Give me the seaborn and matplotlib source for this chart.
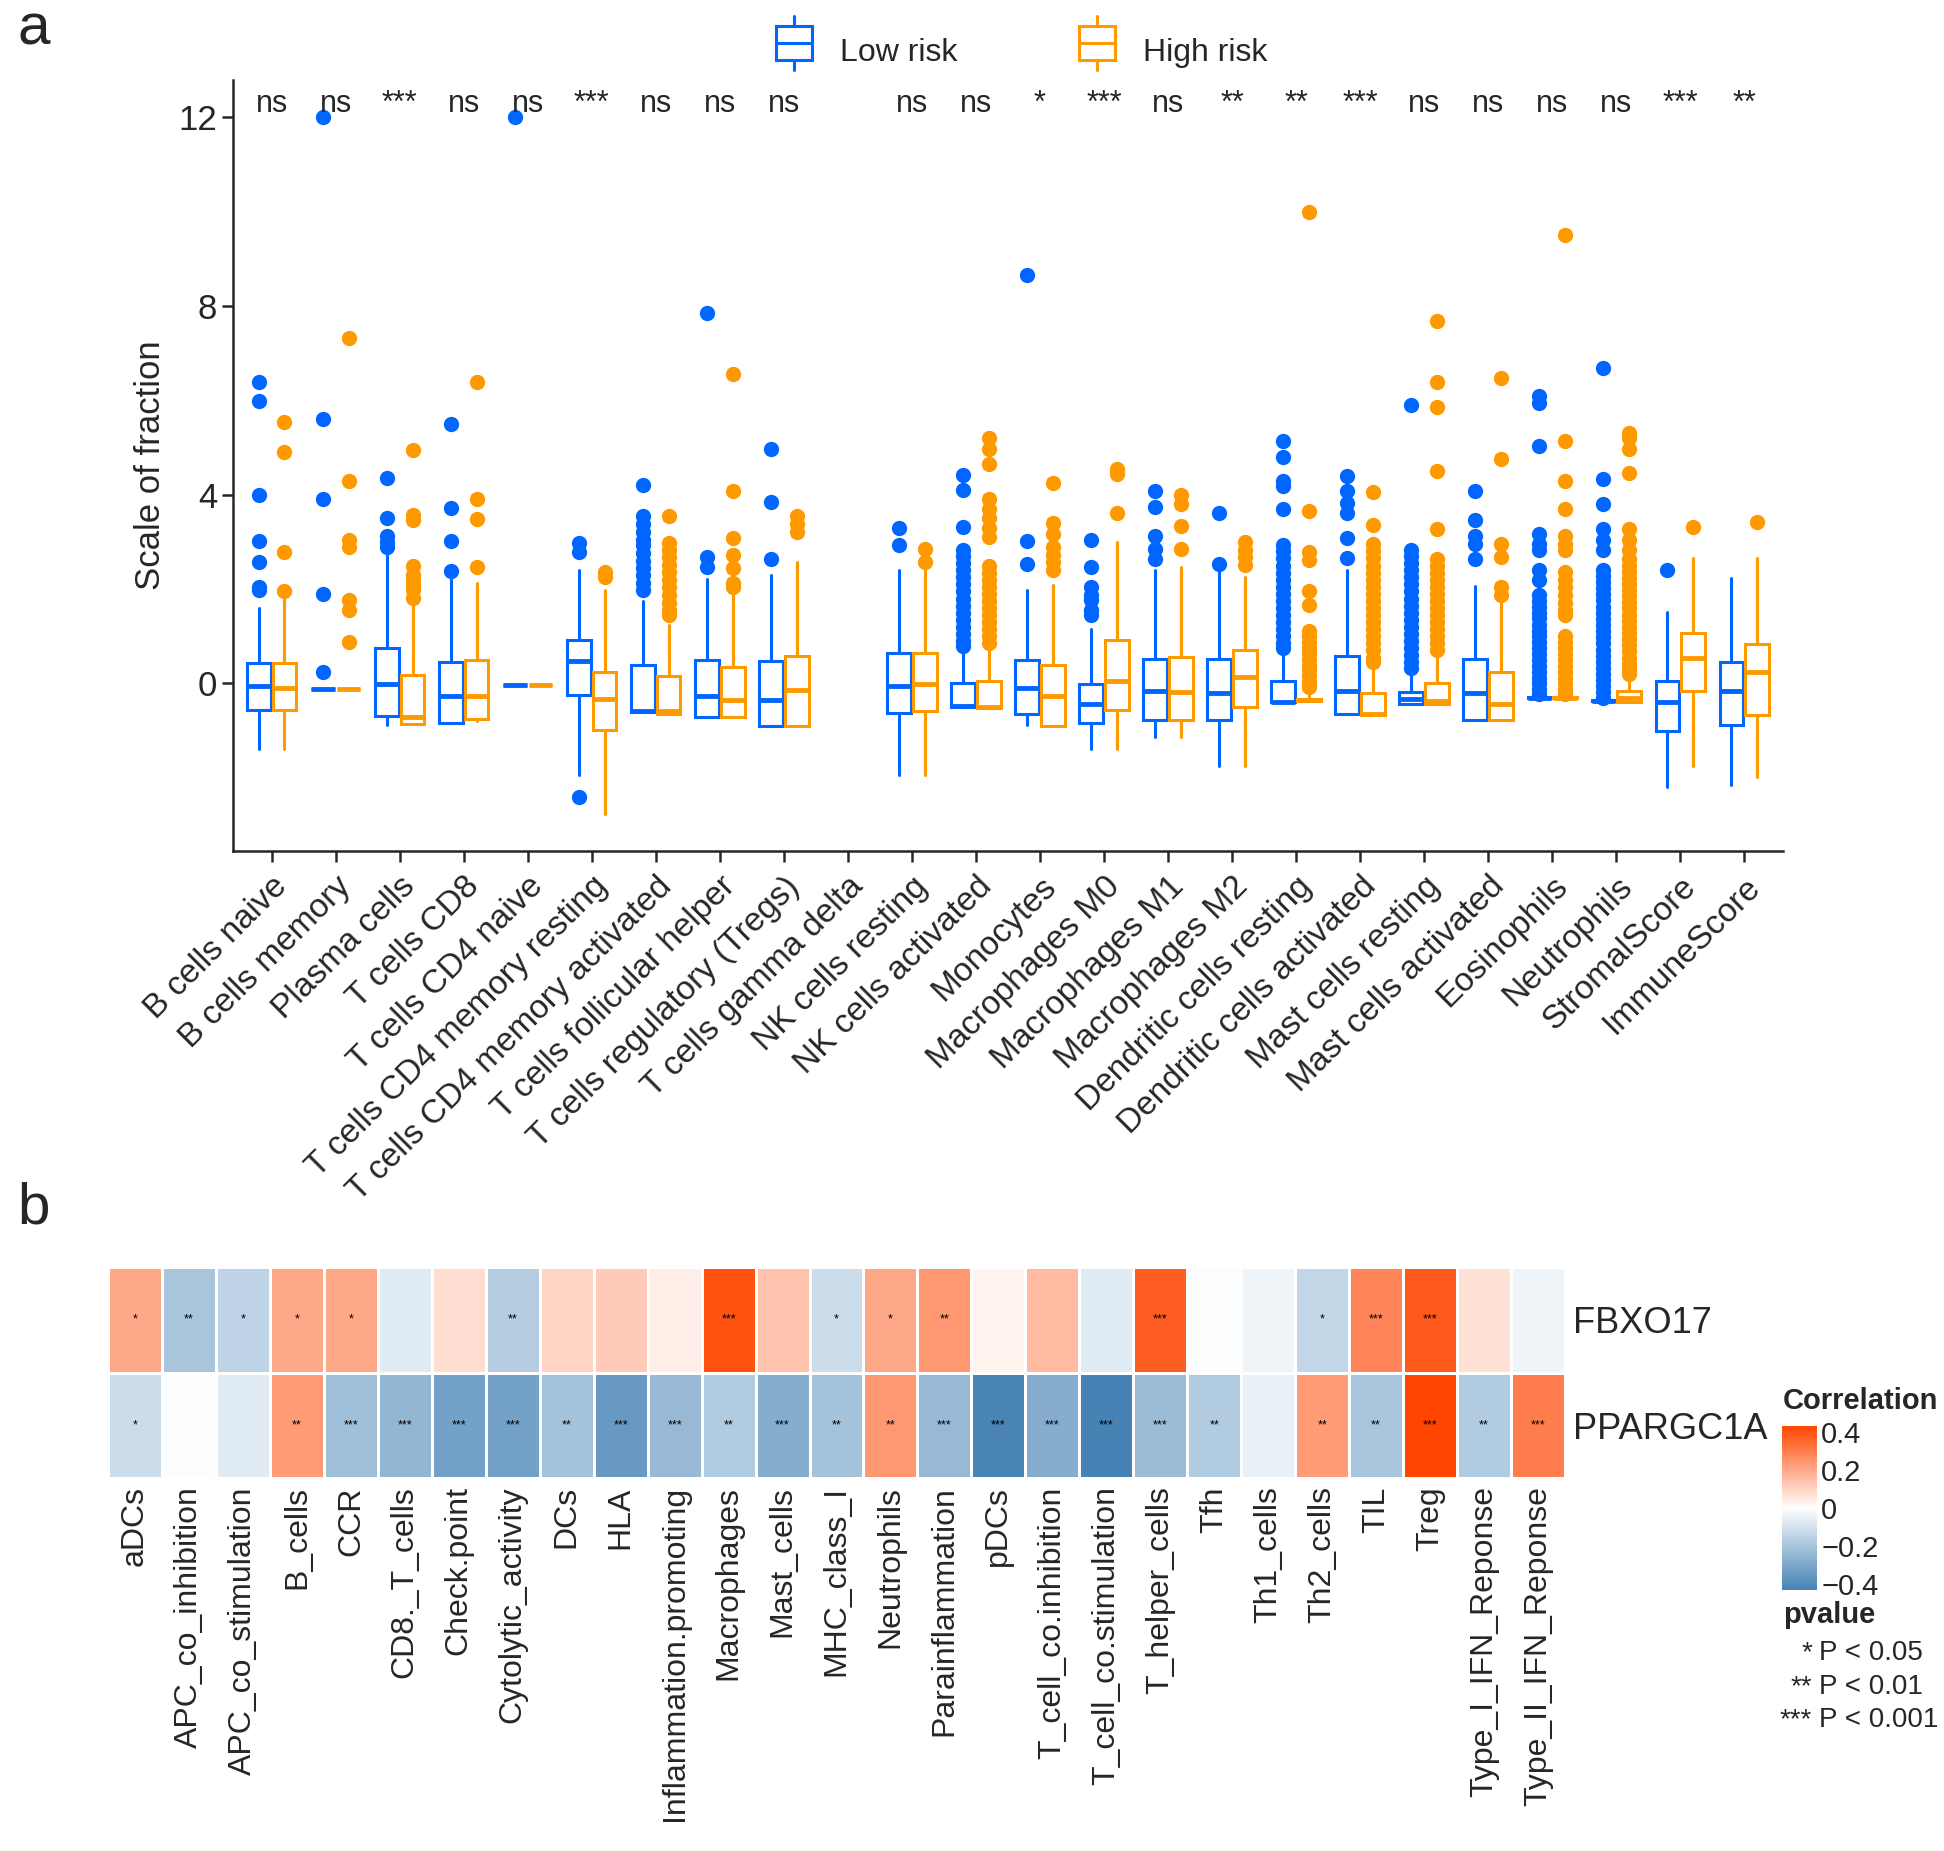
import numpy as np
import pandas as pd
import matplotlib
matplotlib.use("Agg")
import matplotlib.pyplot as plt
from matplotlib.colors import LinearSegmentedColormap
from matplotlib.legend_handler import HandlerBase
from matplotlib.patches import Rectangle
from matplotlib.lines import Line2D
import seaborn as sns

sns.set_style("ticks")
plt.rcParams['font.family'] = ['Liberation Sans', 'DejaVu Sans']

# ---------------------------
# Panel a: immune cell fractions by risk group
# ---------------------------
cells = ["B cells naive", "B cells memory", "Plasma cells", "T cells CD8", "T cells CD4 naive",
         "T cells CD4 memory resting", "T cells CD4 memory activated", "T cells follicular helper",
         "T cells regulatory (Tregs)", "T cells gamma delta", "NK cells resting", "NK cells activated",
         "Monocytes", "Macrophages M0", "Macrophages M1", "Macrophages M2", "Dendritic cells resting",
         "Dendritic cells activated", "Mast cells resting", "Mast cells activated", "Eosinophils",
         "Neutrophils", "StromalScore", "ImmuneScore"]
signif = ["ns", "ns", "***", "ns", "ns", "***", "ns", "ns", "ns", "", "ns", "ns",
          "*", "***", "ns", "**", "**", "***", "ns", "ns", "ns", "ns", "***", "**"]

# box stats (None = no box drawn)
low_q1 = [-0.56, -0.11, -0.68, -0.84, -0.03, -0.24, -0.61, -0.72, -0.91, None, -0.62, -0.50,
          -0.64, -0.83, -0.77, -0.77, -0.40, -0.64, -0.43, -0.77, -0.31, -0.38, -1.00, -0.88]
low_med = [-0.05, -0.11, -0.02, -0.27, -0.03, 0.48, -0.59, -0.27, -0.34, None, -0.05, -0.48,
           -0.09, -0.43, -0.16, -0.21, -0.40, -0.16, -0.32, -0.21, -0.30, -0.37, -0.40, -0.16]
low_q3 = [0.43, -0.11, 0.75, 0.45, -0.03, 0.93, 0.40, 0.50, 0.48, None, 0.64, 0.02,
          0.50, -0.02, 0.51, 0.51, 0.05, 0.59, -0.19, 0.51, -0.29, -0.36, 0.05, 0.45]
low_wlo = [-1.39, -0.11, -0.89, -0.84, -0.03, -1.93, -0.61, -0.72, -0.91, None, -1.93, -0.50,
           -0.89, -1.39, -1.13, -1.74, -0.40, -0.64, -0.43, -0.77, -0.33, -0.40, -2.20, -2.16]
low_whi = [1.61, -0.11, 2.79, 2.25, -0.03, 2.41, 1.74, 2.22, 2.30, None, 2.41, 0.70,
           1.98, 1.15, 2.41, 2.36, 0.59, 2.41, 0.21, 2.06, -0.27, -0.33, 1.52, 2.23]
low_out = [
    [6.38, 5.98, 4.0, 3.03, 2.57, 2.04, 1.98],
    [12.0, 5.6, 3.92, 1.9, 0.24],
    [4.36, 3.5, 3.13, 3.0, 2.89],
    [5.49, 3.72, 3.02, 2.38],
    [12.0],
    [2.97, 2.79, -2.41],
    [4.21, 3.54, 3.38, 3.21, 3.05, 2.93, 2.77, 2.6, 2.45, 2.3, 2.14, 1.98],
    [7.85, 2.68, 2.46],
    [4.98, 3.84, 2.63],
    [],
    [3.29, 2.93],
    [4.41, 4.1, 3.32, 2.84, 2.7, 2.55, 2.4, 2.25, 2.1, 1.95, 1.8, 1.65, 1.5, 1.35, 1.2, 1.05, 0.9, 0.8],
    [8.66, 3.02, 2.54],
    [3.05, 2.46, 2.04, 1.88, 1.77, 1.55, 1.45],
    [4.07, 3.75, 3.13, 2.86, 2.63],
    [3.62, 2.54],
    [5.14, 4.8, 4.29, 4.18, 3.7, 2.93, 2.8, 2.65, 2.5, 2.35, 2.2, 2.05, 1.9, 1.75, 1.6, 1.45,
     1.3, 1.15, 1.0, 0.85, 0.75],
    [4.39, 4.07, 3.83, 3.61, 3.08, 2.65],
    [5.91, 2.84, 2.7, 2.55, 2.4, 2.25, 2.1, 1.95, 1.8, 1.65, 1.5, 1.35, 1.2, 1.05, 0.9, 0.75,
     0.6, 0.45, 0.32],
    [4.09, 3.46, 3.13, 2.95, 2.63],
    [6.1, 5.95, 5.03, 3.16, 2.95, 2.84, 2.41, 2.2, 1.88, 1.75, 1.62, 1.5, 1.38, 1.25, 1.12, 1.0,
     0.88, 0.75, 0.62, 0.5, 0.38, 0.25, 0.12, 0.0, -0.12, -0.22],
    [6.69, 4.34, 3.8, 3.27, 3.05, 2.84, 2.41, 2.28, 2.15, 2.02, 1.89, 1.76, 1.63, 1.5, 1.37,
     1.24, 1.11, 0.98, 0.85, 0.72, 0.59, 0.46, 0.33, 0.2, 0.07, -0.06, -0.19, -0.3],
    [2.41],
    [],
]

high_q1 = [-0.57, -0.11, -0.86, -0.75, -0.03, -0.99, -0.64, -0.72, -0.91, None, -0.59, -0.52,
           -0.91, -0.56, -0.77, -0.50, -0.38, -0.66, -0.43, -0.77, -0.31, -0.40, -0.16, -0.66]
high_med = [-0.09, -0.11, -0.70, -0.27, -0.03, -0.32, -0.59, -0.34, -0.13, None, -0.02, -0.50,
            -0.27, 0.05, -0.18, 0.13, -0.36, -0.64, -0.38, -0.43, -0.30, -0.30, 0.54, 0.25]
high_q3 = [0.43, -0.11, 0.19, 0.50, -0.03, 0.24, 0.16, 0.34, 0.59, None, 0.64, 0.05,
           0.40, 0.93, 0.57, 0.70, -0.33, -0.21, 0.02, 0.25, -0.29, -0.16, 1.07, 0.84]
high_wlo = [-1.39, -0.11, -0.86, -0.80, -0.03, -2.76, -0.64, -0.72, -0.91, None, -1.93, -0.52,
            -0.91, -1.39, -1.13, -1.74, -0.38, -0.66, -0.43, -0.77, -0.33, -0.40, -1.74, -1.98]
high_whi = [1.82, -0.11, 1.66, 2.14, -0.03, 1.98, 1.23, 1.88, 2.57, None, 2.41, 0.70,
            2.09, 3.00, 2.46, 2.25, -0.20, 0.32, 0.59, 1.75, -0.27, 0.10, 2.65, 2.65]
high_out = [
    [5.55, 4.91, 2.79, 1.96],
    [7.32, 4.29, 3.05, 2.89, 1.77, 1.55, 0.89],
    [4.95, 3.57, 3.46, 2.49, 2.3, 2.2, 2.09, 1.98, 1.82],
    [6.38, 3.91, 3.48, 2.46],
    [],
    [2.36, 2.25],
    [3.56, 2.97, 2.84, 2.68, 2.52, 2.36, 2.2, 2.04, 1.88, 1.71, 1.55, 1.45],
    [6.57, 4.09, 3.09, 2.73, 2.44, 2.14, 2.04],
    [3.54, 3.38, 3.21],
    [],
    [2.86, 2.57],
    [5.2, 4.98, 4.66, 3.9, 3.7, 3.5, 3.3, 3.1, 2.5, 2.35, 2.2, 2.05, 1.9, 1.75, 1.6, 1.45, 1.3,
     1.15, 1.0, 0.85],
    [4.25, 3.4, 3.16, 2.89, 2.73, 2.57, 2.41],
    [4.55, 4.45, 3.61],
    [4.0, 3.8, 3.34, 2.86],
    [3.0, 2.84, 2.68, 2.52],
    [10.0, 3.66, 2.79, 2.62, 1.95, 1.66, 1.12, 1.0, 0.88, 0.76, 0.64, 0.52, 0.4, 0.28, 0.16,
     0.04, -0.08],
    [4.05, 3.35, 2.95, 2.8, 2.65, 2.5, 2.35, 2.2, 2.05, 1.9, 1.75, 1.6, 1.45, 1.3, 1.15, 1.0,
     0.85, 0.7, 0.55, 0.45],
    [7.69, 6.38, 5.87, 4.5, 3.27, 2.63, 2.5, 2.35, 2.2, 2.05, 1.9, 1.75, 1.6, 1.45, 1.3, 1.15,
     1.0, 0.85, 0.72],
    [6.48, 4.75, 2.95, 2.68, 2.04, 1.88],
    [9.5, 5.13, 4.3, 3.7, 3.13, 2.95, 2.84, 2.36, 2.2, 2.04, 1.88, 1.71, 1.55, 1.45, 1.0, 0.88,
     0.75, 0.62, 0.5, 0.38, 0.25, 0.12, 0.0, -0.12, -0.22],
    [5.3, 5.2, 4.98, 4.47, 3.27, 3.05, 2.84, 2.63, 2.5, 2.37, 2.24, 2.11, 1.98, 1.85, 1.72,
     1.59, 1.46, 1.33, 1.2, 1.07, 0.94, 0.81, 0.68, 0.55, 0.42, 0.3, 0.2],
    [3.32],
    [3.43],
]

# ---------------------------
# Panel b: correlation heatmap
# ---------------------------
features = ["aDCs", "APC_co_inhibition", "APC_co_stimulation", "B_cells", "CCR", "CD8._T_cells",
            "Check.point", "Cytolytic_activity", "DCs", "HLA", "Inflammation.promoting",
            "Macrophages", "Mast_cells", "MHC_class_I", "Neutrophils", "Parainflammation", "pDCs",
            "T_cell_co.inhibition", "T_cell_co.stimulation", "T_helper_cells", "Tfh", "Th1_cells",
            "Th2_cells", "TIL", "Treg", "Type_I_IFN_Reponse", "Type_II_IFN_Reponse"]
genes = ["FBXO17", "PPARGC1A"]
fbxo17_r = [0.20, -0.20, -0.15, 0.20, 0.20, -0.07, 0.08, -0.17, 0.10, 0.12, 0.04, 0.40, 0.14,
            -0.12, 0.20, 0.24, 0.03, 0.16, -0.07, 0.37, -0.01, -0.04, -0.14, 0.28, 0.38, 0.07, -0.04]
ppargc1a_r = [-0.12, -0.01, -0.07, 0.23, -0.22, -0.25, -0.32, -0.32, -0.21, -0.35, -0.24, -0.18,
              -0.28, -0.21, 0.24, -0.24, -0.42, -0.28, -0.43, -0.23, -0.18, -0.05, 0.23, -0.20,
              0.45, -0.18, 0.30]
fbxo17_p = ["*", "**", "*", "*", "*", "", "", "**", "", "", "", "***", "", "*", "*", "**", "",
            "", "", "***", "", "", "*", "***", "***", "", ""]
ppargc1a_p = ["*", "", "", "**", "***", "***", "***", "***", "**", "***", "***", "**", "***", "**",
              "**", "***", "***", "***", "***", "***", "**", "", "**", "**", "***", "**", "***"]

low_col = "#0066FF"
high_col = "#FF9900"

fig = plt.figure(figsize=(19.44, 18.51), dpi=100)

# ---------------------------
# Box plot
# ---------------------------
ax = fig.add_axes([0.12, 0.54, 0.797, 0.417])


def make_stats(q1, med, q3, wlo, whi, out):
    stats = []
    pos = []
    for i in range(len(cells)):
        if q1[i] is None:
            continue
        stats.append(dict(q1=q1[i], med=med[i], q3=q3[i], whislo=wlo[i], whishi=whi[i],
                          fliers=np.array(out[i])))
        pos.append(i)
    return stats, np.array(pos)


for q1, med, q3, wlo, whi, out, col, off in [
        (low_q1, low_med, low_q3, low_wlo, low_whi, low_out, low_col, -0.2),
        (high_q1, high_med, high_q3, high_wlo, high_whi, high_out, high_col, 0.2)]:
    stats, pos = make_stats(q1, med, q3, wlo, whi, out)
    ax.bxp(stats, positions=pos + off, widths=0.37, showcaps=False, patch_artist=True,
           boxprops=dict(facecolor="white", edgecolor=col, linewidth=2.2),
           medianprops=dict(color=col, linewidth=3.5),
           whiskerprops=dict(color=col, linewidth=2.2),
           flierprops=dict(marker="o", markerfacecolor=col, markeredgecolor=col, markersize=10))

for i, s in enumerate(signif):
    ax.text(i, 12.12, s, ha="center", va="baseline", fontsize=22)

ax.set_xlim(-0.6, 23.6)
ax.set_ylim(-3.56, 12.8)
ax.set_yticks([0, 4, 8, 12])
ax.set_xticks(range(len(cells)))
ax.set_xticklabels(cells, rotation=45, ha="right", rotation_mode="anchor", fontsize=24)
ax.tick_params(axis="y", labelsize=25, length=8, width=1.8)
ax.tick_params(axis="x", length=8, width=1.8, pad=6)
ax.set_ylabel("Scale of fraction", fontsize=25, labelpad=8)
sns.despine(ax=ax)
for sp in ["left", "bottom"]:
    ax.spines[sp].set_linewidth(1.8)


class BoxHandler(HandlerBase):
    def create_artists(self, legend, orig, xd, yd, w, h, fs, trans):
        c = orig.get_color()
        bw = w * 0.75
        x0 = xd + (w - bw) / 2
        xm = xd + w / 2
        rect = Rectangle((x0, yd - 0.1 * h), bw, h * 1.2, facecolor="white", edgecolor=c,
                         linewidth=2.2, transform=trans)
        med = Line2D([x0, x0 + bw], [yd + h / 2] * 2, color=c, linewidth=2.2, transform=trans)
        wt = Line2D([xm, xm], [yd + 1.1 * h, yd + 1.45 * h], color=c, linewidth=2.2, transform=trans)
        wb = Line2D([xm, xm], [yd - 0.1 * h, yd - 0.45 * h], color=c, linewidth=2.2, transform=trans)
        return [rect, med, wt, wb]


handles = [Line2D([], [], color=low_col), Line2D([], [], color=high_col)]
fig.legend(handles, ["Low risk", "High risk"], loc="center", bbox_to_anchor=(0.524, 0.972),
           ncol=2, frameon=False, fontsize=23, handler_map={Line2D: BoxHandler()},
           handlelength=1.5, handleheight=1.0, columnspacing=3.6, handletextpad=0.7)

# ---------------------------
# Heatmap
# ---------------------------
corr = pd.DataFrame([fbxo17_r, ppargc1a_r], index=genes, columns=features)
stars = np.array([fbxo17_p, ppargc1a_p])
cmap = LinearSegmentedColormap.from_list("rb", ["#4682B4", "#FFFFFF", "#FF4500"])

ax_b = fig.add_axes([0.0556, 0.2015, 0.7494, 0.114])
cax = fig.add_axes([0.9167, 0.141, 0.018, 0.0886])
sns.heatmap(corr, cmap=cmap, vmin=-0.43, vmax=0.43, linewidths=2, linecolor="white",
            annot=stars, fmt="", annot_kws={"fontsize": 9, "color": "black"},
            cbar_ax=cax, ax=ax_b, cbar_kws={"ticks": [-0.4, -0.2, 0, 0.2, 0.4]})
ax_b.yaxis.tick_right()
ax_b.set_yticklabels(genes, rotation=0, fontsize=26)
ax_b.set_xticklabels(features, rotation=90, fontsize=23)
ax_b.tick_params(length=0, pad=6)
ax_b.set_xlabel("")
ax_b.set_ylabel("")

cax.set_yticklabels(["\u22120.4", "\u22120.2", "0", "0.2", "0.4"])
cax.yaxis.set_ticks_position("both")
cax.tick_params(axis="y", direction="in", color="white", length=7, width=1.5,
                labelleft=False, labelright=True, labelsize=21, pad=3)
for sp in cax.spines.values():
    sp.set_visible(False)

fig.text(0.917, 0.243, "Correlation", fontsize=21, fontweight="bold", va="center")
fig.text(0.917, 0.1275, "pvalue", fontsize=21, fontweight="bold", va="center")
for y, st, lab in [(0.107, "*", "P < 0.05"), (0.0886, "**", "P < 0.01"), (0.0708, "***", "P < 0.001")]:
    fig.text(0.932, y, st, fontsize=20, ha="right", va="center")
    fig.text(0.9355, y, lab, fontsize=20, ha="left", va="center")

fig.text(0.009, 0.984, "a", fontsize=42, va="center")
fig.text(0.009, 0.347, "b", fontsize=42, va="center")

fig.savefig("out.png", dpi=100)
